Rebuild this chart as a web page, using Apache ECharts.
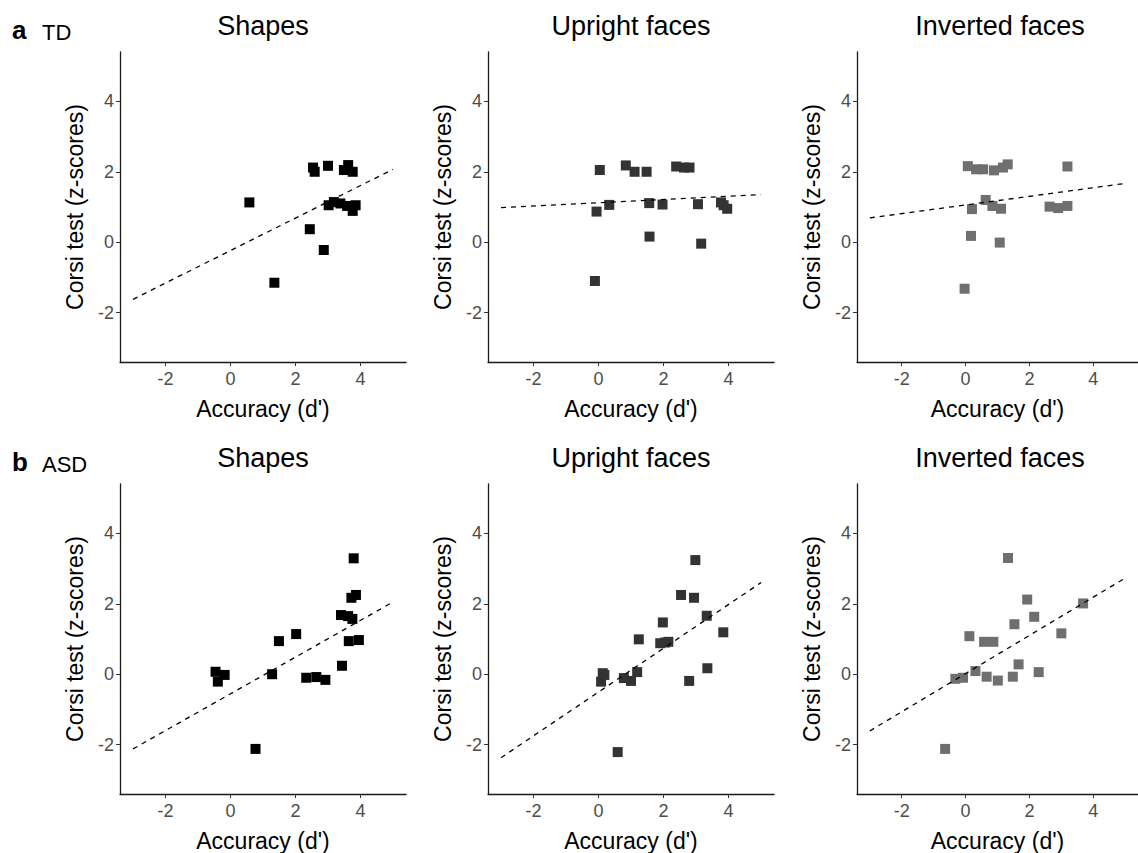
<!DOCTYPE html>
<html>
<head>
<meta charset="utf-8">
<script src="https://cdn.jsdelivr.net/npm/echarts@6/dist/echarts.min.js"></script>
<style>
html,body{margin:0;padding:0;background:#fff;}
#chart{width:1138px;height:853px;}
</style>
</head>
<body>
<div id="chart"></div>
<script>
// ---- data ----
const panelTitles = ['Shapes', 'Upright faces', 'Inverted faces'];
const groupLetters = ['a', 'b'];
const groupNames = ['TD', 'ASD'];
const xAxisTitle = 'Accuracy (d\')';
const yAxisTitle = 'Corsi test (z-scores)';
const tickValues = [-2, 0, 2, 4];
const fitX = [-3, 5];

const tdShapesX = [2.54, 2.59, 3.0, 3.62, 3.49, 3.76, 0.58, 3.02, 3.18, 3.38, 3.59, 3.85, 3.76, 2.44, 2.87, 1.35];
const tdShapesY = [2.12, 2.0, 2.17, 2.19, 2.05, 2.0, 1.13, 1.05, 1.14, 1.1, 1.03, 1.05, 0.89, 0.37, -0.22, -1.15];
const tdShapesFit = [-1.62, 2.07];

const tdUprightX = [0.04, 0.84, 1.11, 1.48, 2.39, 2.63, 2.80, -0.06, 0.33, 1.56, 1.97, 3.06, 3.77, 3.85, 3.96, 1.57, 3.16, -0.11];
const tdUprightY = [2.05, 2.18, 2.0, 2.0, 2.15, 2.12, 2.12, 0.87, 1.06, 1.11, 1.07, 1.08, 1.13, 1.05, 0.95, 0.16, -0.04, -1.1];
const tdUprightFit = [0.98, 1.35];

const tdInvertedX = [0.07, 0.33, 0.55, 0.89, 1.17, 1.32, 3.19, 0.2, 0.63, 0.84, 1.11, 2.63, 2.9, 3.19, 0.17, 1.07, -0.03];
const tdInvertedY = [2.16, 2.07, 2.07, 2.04, 2.12, 2.21, 2.15, 0.94, 1.2, 1.03, 0.95, 1.01, 0.97, 1.03, 0.18, -0.01, -1.32];
const tdInvertedFit = [0.69, 1.67];

const asdShapesX = [3.79, 3.72, 3.86, 3.4, 3.62, 3.75, 1.49, 2.02, 3.64, 3.95, 3.43, -0.46, -0.18, -0.39, 1.28, 2.33, 2.64, 2.92, 0.77];
const asdShapesY = [3.29, 2.17, 2.25, 1.68, 1.65, 1.57, 0.94, 1.14, 0.94, 0.97, 0.24, 0.07, -0.02, -0.21, 0.0, -0.1, -0.08, -0.16, -2.12];
const asdShapesFit = [-2.12, 2.05];

const asdUprightX = [2.98, 2.54, 2.94, 3.33, 1.98, 3.84, 1.24, 1.9, 2.05, 2.15, 3.35, 2.79, 0.13, 0.08, 0.18, 0.78, 1.0, 1.19, 0.59];
const asdUprightY = [3.24, 2.25, 2.17, 1.66, 1.47, 1.19, 0.99, 0.88, 0.9, 0.92, 0.17, -0.19, 0.03, -0.21, -0.02, -0.11, -0.19, 0.06, -2.21];
const asdUprightFit = [-2.37, 2.6];

const asdInvertedX = [1.33, 1.93, 2.15, 1.53, 3.68, 3.0, 0.12, 0.58, 0.87, 1.66, 2.29, -0.32, -0.08, 0.31, 0.66, 1.01, 1.48, -0.64];
const asdInvertedY = [3.3, 2.12, 1.63, 1.42, 2.01, 1.16, 1.08, 0.92, 0.92, 0.28, 0.06, -0.13, -0.1, 0.09, -0.07, -0.18, -0.07, -2.12];
const asdInvertedFit = [-1.61, 2.73];

// ---- layout / style ----
const FONT = '"Liberation Sans", Arial, sans-serif';
const colLeft = [120, 488, 857];
const rowTop = [52, 484];
const gridW = 286, gridH = 310;
const pointColors = ['#000000', '#333333', '#6f6f6f'];

const panels = [
  [[tdShapesX, tdShapesY, tdShapesFit], [tdUprightX, tdUprightY, tdUprightFit], [tdInvertedX, tdInvertedY, tdInvertedFit]],
  [[asdShapesX, asdShapesY, asdShapesFit], [asdUprightX, asdUprightY, asdUprightFit], [asdInvertedX, asdInvertedY, asdInvertedFit]]
];

const grid = [], xAxis = [], yAxis = [], series = [], graphic = [];
let idx = 0;
for (let r = 0; r < 2; r++) {
  for (let c = 0; c < 3; c++) {
    grid.push({left: colLeft[c], top: rowTop[r], width: gridW, height: gridH, containLabel: false});
    const axisCommon = {
      gridIndex: idx, type: 'value', min: -3.4, max: 5.4,
      splitLine: {show: false},
      axisLine: {show: true, onZero: false, lineStyle: {color: '#1a1a1a', width: 1.3}},
      axisTick: {show: true, customValues: tickValues, length: 4, lineStyle: {color: '#333', width: 1}},
      axisLabel: {show: true, customValues: tickValues, color: '#4d4d4d', fontFamily: FONT, fontSize: 18, margin: 6},
      nameLocation: 'middle',
      nameTextStyle: {color: '#000', fontFamily: FONT, fontSize: 23}
    };
    xAxis.push(Object.assign({}, axisCommon, {position: 'bottom', name: xAxisTitle, nameGap: 35,
      axisLabel: Object.assign({}, axisCommon.axisLabel, {margin: 8})}));
    yAxis.push(Object.assign({}, axisCommon, {position: 'left', name: yAxisTitle, nameGap: 34, nameRotate: 90}));
    const [xs, ys, fit] = panels[r][c];
    series.push({
      type: 'scatter', xAxisIndex: idx, yAxisIndex: idx,
      symbol: 'rect', symbolSize: 10,
      itemStyle: {color: pointColors[c], opacity: 1},
      data: xs.map((x, i) => [x, ys[i]]),
      z: 2, silent: true
    });
    series.push({
      type: 'line', xAxisIndex: idx, yAxisIndex: idx,
      symbol: 'none',
      lineStyle: {color: '#000', width: 1.3, type: [5, 5]},
      data: fitX.map((x, i) => [x, fit[i]]),
      z: 3, silent: true
    });
    graphic.push({
      type: 'text', x: colLeft[c] + gridW / 2, y: rowTop[r] - 40,
      style: {text: panelTitles[c], font: '27px ' + FONT, fill: '#000', textAlign: 'center'}
    });
    idx++;
  }
}

const title = [];
for (let r = 0; r < 2; r++) {
  title.push({
    left: 7, top: rowTop[r] - 40,
    text: '{l|' + groupLetters[r] + '}{n|' + groupNames[r] + '}',
    textStyle: {
      fontWeight: 'normal',
      rich: {
        l: {fontFamily: FONT, fontWeight: 'bold', fontSize: 26, color: '#000', width: 30, verticalAlign: 'bottom'},
        n: {fontFamily: FONT, fontWeight: 'normal', fontSize: 22, color: '#000', verticalAlign: 'bottom'}
      }
    }
  });
}

const chart = echarts.init(document.getElementById('chart'), null, {renderer: 'svg'});
chart.setOption({
  animation: false,
  backgroundColor: '#fff',
  title, grid, xAxis, yAxis, series, graphic
});
</script>
</body>
</html>
